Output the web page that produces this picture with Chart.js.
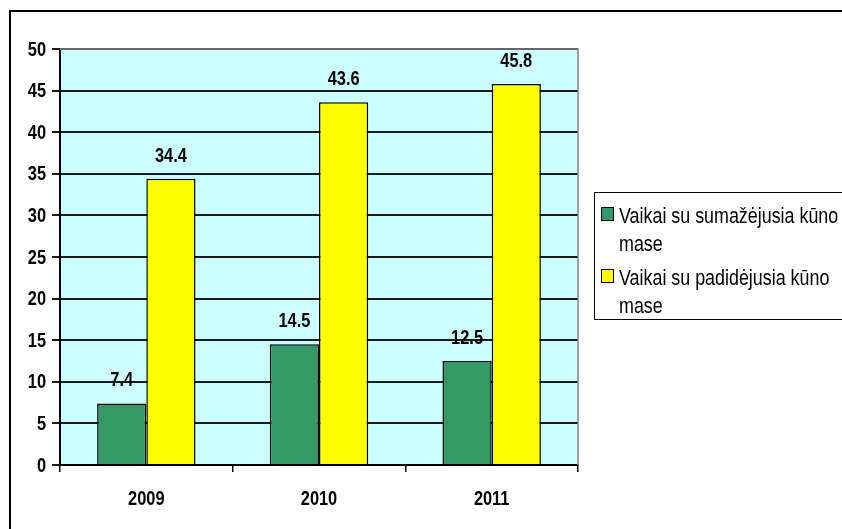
<!DOCTYPE html>
<html>
<head>
<meta charset="utf-8">
<script src="https://cdn.jsdelivr.net/npm/chart.js@4/dist/chart.umd.min.js"></script>
<style>
  html, body { margin: 0; padding: 0; background: #fff; }
  #wrap { position: relative; width: 842px; height: 529px; }
</style>
</head>
<body>
<div id="wrap"><canvas id="chart" width="842" height="529"></canvas></div>
<script>
// du lieu doc tu hinh
const years = ['2009', '2010', '2011'];
const sumazejusia = [7.4, 14.5, 12.5];
const padidejusia = [34.4, 43.6, 45.8];
const seriesNames = [
  ['Vaikai su sumažėjusia kūno', 'mase'],
  ['Vaikai su padidėjusia kūno', 'mase'],
];
const yTicks = [0, 5, 10, 15, 20, 25, 30, 35, 40, 45, 50];

const FONT = '"Liberation Sans", Arial, sans-serif';
const NARROW = 0.82; // gia lap Arial Narrow

// ve chu hep theo chieu ngang
function narrowText(ctx, text, x, y) {
  ctx.save();
  ctx.translate(x, y);
  ctx.scale(NARROW, 1);
  ctx.fillText(text, 0, 0);
  ctx.restore();
}

const frame = {
  id: 'frame',
  beforeDraw(chart) {
    const { ctx, chartArea: a } = chart;
    ctx.save();
    ctx.fillStyle = '#ccffff';
    ctx.fillRect(a.left, a.top, a.right - a.left, a.bottom - a.top);
    ctx.strokeStyle = '#000';
    ctx.lineWidth = 2;
    ctx.beginPath();
    ctx.moveTo(10, 529);
    ctx.lineTo(10, 11);
    ctx.lineTo(842, 11);
    ctx.stroke();
    ctx.restore();
  },
  afterDatasetsDraw(chart) {
    const { ctx, chartArea: a, scales } = chart;
    ctx.save();
    // vien phai/tren cua vung ve
    ctx.strokeStyle = '#808080';
    ctx.lineWidth = 1.5;
    ctx.beginPath();
    ctx.moveTo(a.left, a.top);
    ctx.lineTo(a.right, a.top);
    ctx.lineTo(a.right, a.bottom);
    ctx.stroke();

    ctx.fillStyle = '#000';
    ctx.font = 'bold 20px ' + FONT;
    // nhan gia tri
    ctx.textAlign = 'center';
    ctx.textBaseline = 'alphabetic';
    chart.data.datasets.forEach((ds, i) => {
      chart.getDatasetMeta(i).data.forEach((bar, j) => {
        narrowText(ctx, ds.data[j].toFixed(1), bar.x, bar.y - 17);
      });
    });
    // nhan truc x
    scales.x.ticks.forEach((t, i) => {
      narrowText(ctx, chart.data.labels[i], scales.x.getPixelForTick(i), a.bottom + 40);
    });
    // nhan truc y
    ctx.textAlign = 'right';
    ctx.textBaseline = 'middle';
    scales.y.ticks.forEach(t => {
      narrowText(ctx, String(t.value), 46, scales.y.getPixelForValue(t.value) + 1);
    });
    ctx.restore();
  },
  afterDraw(chart) {
    // legend tu ve
    const { ctx } = chart;
    const x0 = 594, y0 = 192;
    ctx.save();
    ctx.fillStyle = '#fff';
    ctx.fillRect(x0, y0, 260, 127);
    ctx.strokeStyle = '#000';
    ctx.lineWidth = 1;
    ctx.strokeRect(x0 + 0.5, y0 + 0.5, 260, 127);
    ctx.font = '21.8px ' + FONT;
    ctx.textBaseline = 'alphabetic';
    ctx.textAlign = 'left';
    chart.data.datasets.forEach((ds, i) => {
      const base = 223 + i * 62;
      ctx.fillStyle = ds.backgroundColor;
      ctx.fillRect(x0 + 7.5, base - 15.5, 12, 13);
      ctx.strokeStyle = '#000';
      ctx.strokeRect(x0 + 7.5, base - 15.5, 12, 13);
      ctx.fillStyle = '#000';
      seriesNames[i].forEach((line, k) => {
        narrowText(ctx, line, x0 + 25, base + k * 28);
      });
    });
    ctx.restore();
  },
};

new Chart(document.getElementById('chart'), {
  type: 'bar',
  data: {
    labels: years,
    datasets: [
      { label: seriesNames[0].join(' '), data: sumazejusia, backgroundColor: '#339966', borderColor: '#000', borderWidth: 1.5 },
      { label: seriesNames[1].join(' '), data: padidejusia, backgroundColor: '#ffff00', borderColor: '#000', borderWidth: 1.5 },
    ],
  },
  options: {
    responsive: false,
    animation: false,
    devicePixelRatio: 1,
    layout: { padding: { left: 0, top: 49, right: 264, bottom: 0 } },
    datasets: { bar: { barPercentage: 1, categoryPercentage: 0.57 } },
    plugins: { legend: { display: false }, tooltip: { enabled: false } },
    scales: {
      x: {
        afterFit: s => { s.height = 64; },
        grid: { offset: true, drawOnChartArea: false, color: '#000', tickLength: 7, lineWidth: 1.5 },
        border: { color: '#000', width: 2 },
        ticks: { display: false },
      },
      y: {
        min: 0,
        max: 50,
        afterFit: s => { s.width = 60; },
        afterBuildTicks: s => { s.ticks = yTicks.map(v => ({ value: v })); },
        grid: { color: '#1a1a1a', lineWidth: 2, tickLength: 8 },
        border: { color: '#000', width: 2 },
        ticks: { display: false },
      },
    },
  },
  plugins: [frame],
});
</script>
</body>
</html>
